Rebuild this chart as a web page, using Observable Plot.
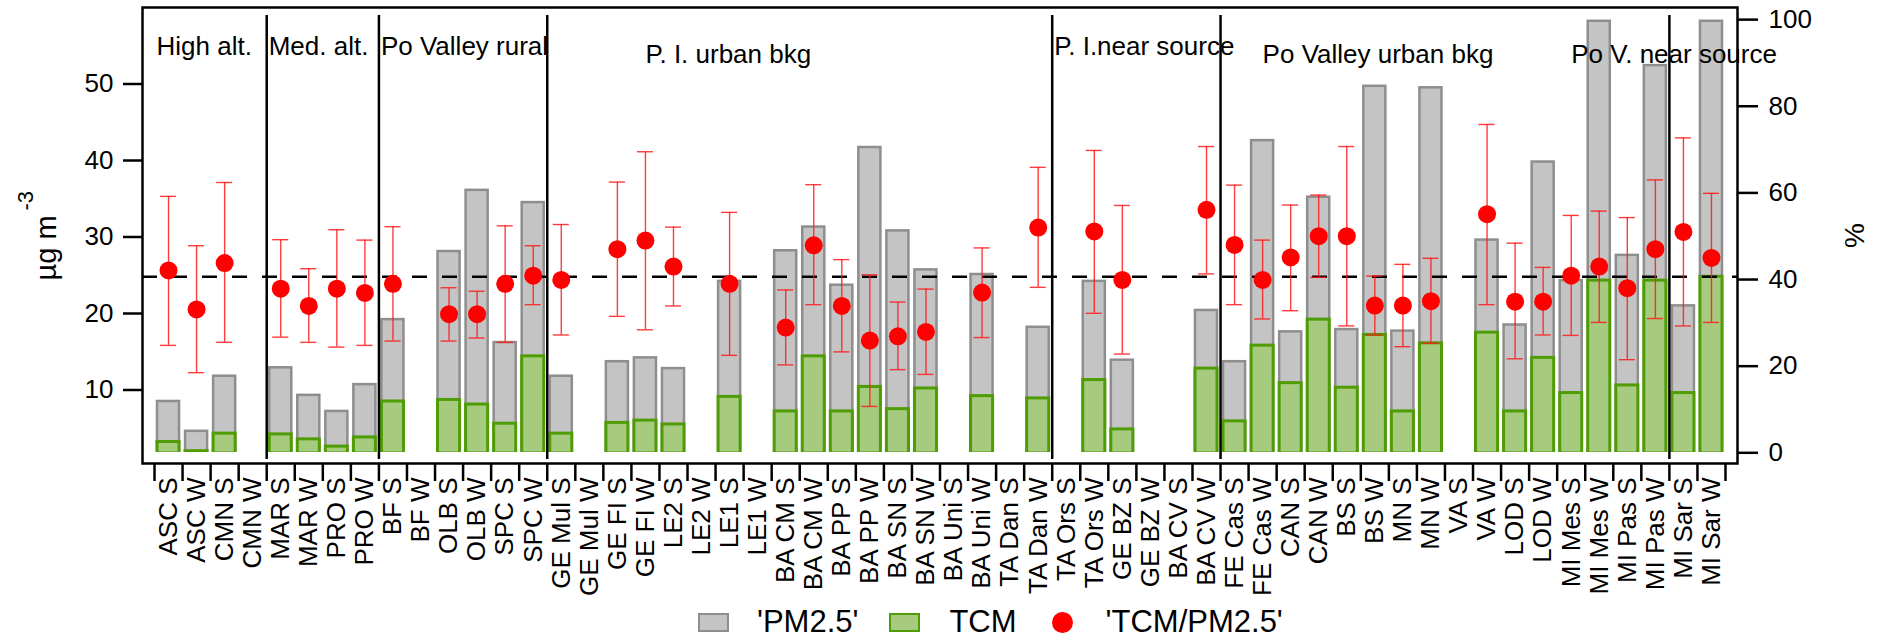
<!DOCTYPE html>
<html>
<head>
<meta charset="utf-8">
<script src="https://cdn.jsdelivr.net/npm/d3@7"></script>
<script src="https://cdn.jsdelivr.net/npm/@observablehq/plot@0.6"></script>
<style>
html, body { margin: 0; padding: 0; background: #fff; }
body { width: 1883px; height: 641px; overflow: hidden; font-family: "Liberation Sans", Arial, sans-serif; }
#legend { height: 38px; display: flex; align-items: center; padding-left: 698px; font-size: 31px; color: #000; }
#legend .box { width: 27px; height: 15px; border: 2px solid; box-sizing: content-box; }
#legend .dot { width: 21px; height: 21px; border-radius: 50%; background: #ff0000; }
</style>
</head>
<body>
<div id="chart"></div>
<div id="legend"></div>
<script>
// ---------------- data ----------------
const sites = ["ASC S","ASC W","CMN S","CMN W","MAR S","MAR W","PRO S","PRO W","BF S","BF W",
  "OLB S","OLB W","SPC S","SPC W","GE Mul S","GE Mul W","GE FI S","GE FI W","LE2 S","LE2 W",
  "LE1 S","LE1 W","BA CM S","BA CM W","BA PP S","BA PP W","BA SN S","BA SN W","BA Uni S","BA Uni W",
  "TA Dan S","TA Dan W","TA Ors S","TA Ors W","GE BZ S","GE BZ W","BA CV S","BA CV W","FE Cas S","FE Cas W",
  "CAN S","CAN W","BS S","BS W","MN S","MN W","VA S","VA W","LOD S","LOD W",
  "MI Mes S","MI Mes W","MI Pas S","MI Pas W","MI Sar S","MI Sar W"];

// PM2.5 (µg m-3)
const pm25 = [8.5,4.6,11.8,null,12.9,9.3,7.2,10.7,19.2,null,
  28.1,36.1,16.2,34.5,11.8,null,13.7,14.2,12.8,null,
  24.2,null,28.2,31.3,23.7,41.7,30.8,25.7,null,25.1,
  null,18.2,null,24.2,13.9,null,null,20.4,13.7,42.6,
  17.6,35.2,17.9,49.7,17.7,49.5,null,29.6,18.5,39.8,
  24.3,58.2,27.6,52.4,21.0,58.2];

// TCM (µg m-3)
const tcm = [3.2,2.0,4.3,null,4.2,3.55,2.6,3.8,8.5,null,
  8.7,8.1,5.6,14.4,4.3,null,5.7,6.0,5.5,null,
  9.1,null,7.2,14.4,7.2,10.4,7.5,10.2,null,9.2,
  null,8.9,null,11.3,4.85,null,null,12.8,5.9,15.8,
  10.9,19.2,10.3,17.2,7.2,16.1,null,17.5,7.2,14.2,
  9.6,24.3,10.6,24.3,9.6,24.8];

// TCM/PM2.5 (%) with lower / upper error bounds
const ratio = [42.1,33.1,43.8,null,37.9,33.9,37.9,36.9,39.0,null,
  32.0,32.0,39.0,40.9,39.9,null,47.0,49.0,43.0,null,
  39.0,null,28.9,47.9,33.9,25.9,26.9,27.9,null,37.0,
  null,52.0,null,51.1,39.9,null,null,56.1,48.0,39.9,
  45.1,50.0,50.0,34.0,34.0,35.0,null,55.1,34.9,34.9,
  40.9,43.0,38.0,47.0,51.0,45.0];
const ratioLow = [24.8,18.5,25.5,null,26.7,25.5,24.4,24.8,25.8,null,
  25.8,26.5,25.5,34.2,27.2,null,31.5,28.4,33.9,null,
  22.5,null,20.3,34.2,23.3,10.7,19.2,18.1,null,26.6,
  null,38.2,null,32.2,22.8,null,null,41.3,34.2,30.9,
  32.8,40.5,29.3,27.2,24.5,25.3,null,34.2,21.7,27.2,
  27.1,30.1,21.5,31.0,29.3,30.1];
const ratioHigh = [59.2,47.8,62.4,null,49.2,42.5,51.5,49.1,52.2,null,
  38.1,37.3,52.4,47.8,52.7,null,62.5,69.5,52.1,null,
  55.5,null,37.6,61.9,44.6,41.1,34.8,37.8,null,47.3,
  null,65.9,null,69.8,57.1,null,null,70.7,61.8,49.1,
  57.2,59.5,70.7,40.8,43.5,44.9,null,75.8,48.4,42.8,
  54.8,55.8,54.3,63.0,72.7,59.9];

// site groups: name and first site of each group
const groupNames = ["High alt.","Med. alt.","Po Valley rural","P. I. urban bkg","P. I.near source","Po Valley urban bkg","Po V. near source"];
const groupFirst = ["ASC S","MAR S","BF S","GE Mul S","TA Ors S","FE Cas S","MI Sar S"];

const leftTicks = [10,20,30,40,50];
const rightTicks = [0,20,40,60,80,100];
const refLevel = 24.8;            // dashed reference line (µg m-3)

// ---------------- layout / scales ----------------
const W = 1883, H = 603;
const mL = 142, mR = 146, mT = 7, mB = 140, xInset = 12;
const yDomain = [1.7, 60];         // left axis (µg m-3)
const pctDomain = [-0.16, 102.8];  // right axis (%) over the same pixel range
const toLeft = p => yDomain[0] + (p - pctDomain[0]) * (yDomain[1] - yDomain[0]) / (pctDomain[1] - pctDomain[0]);
const bw = (W - mL - mR - 2 * xInset) / sites.length;

const rows = sites.map((s, i) => ({site: s, pm: pm25[i], tcm: tcm[i], r: ratio[i], lo: ratioLow[i], hi: ratioHigh[i]}))
  .filter(d => d.pm != null);
const groups = groupNames.map((n, i) => ({name: n, first: groupFirst[i]}));

// label anchoring: some labels start at the group's left edge, others at a site centre
const edgeLabels = [groups[0], groups[1], groups[2], groups[4]].map(g => ({name: g.name, site: g.first}));
const centerLabels = [
  {name: groups[3].name, site: "GE FI W"},
  {name: groups[5].name, site: "FE Cas W"},
  {name: groups[6].name, site: "MI Mes S"}
];

const red = "#ff1a1a";

const chart = Plot.plot({
  width: W, height: H,
  marginLeft: mL, marginRight: mR, marginTop: mT, marginBottom: mB,
  style: {fontFamily: "'Liberation Sans', Arial, sans-serif", background: "white", color: "black", overflow: "visible"},
  x: {type: "band", domain: sites, padding: 0, round: false, insetLeft: xInset, insetRight: xInset},
  y: {domain: yDomain, insetBottom: 10},
  marks: [
    Plot.barY(rows, {x: "site", y1: yDomain[0], y2: "pm", fill: "#c4c4c4", stroke: "#8e8e8e", strokeWidth: 2.5, insetLeft: 3, insetRight: 3}),
    Plot.barY(rows, {x: "site", y1: yDomain[0], y2: "tcm", fill: "#a6cb7e", stroke: "#4f9c06", strokeWidth: 3, insetLeft: 3, insetRight: 3}),
    Plot.ruleY([yDomain[0]], {stroke: "white", strokeWidth: 3}),
    Plot.ruleY([refLevel], {stroke: "black", strokeWidth: 2.5, strokeDasharray: "15,15"}),
    Plot.ruleX(groups.slice(1), {x: "first", dx: -bw / 2, stroke: "black", strokeWidth: 2.5, insetTop: 8, insetBottom: 4}),
    Plot.ruleX(rows, {x: "site", y1: d => toLeft(d.lo), y2: d => toLeft(d.hi), stroke: red, strokeWidth: 1.4, strokeOpacity: 0.85}),
    Plot.tickY(rows, {x: "site", y: d => toLeft(d.lo), stroke: red, strokeWidth: 1.4, strokeOpacity: 0.85, insetLeft: 6, insetRight: 6}),
    Plot.tickY(rows, {x: "site", y: d => toLeft(d.hi), stroke: red, strokeWidth: 1.4, strokeOpacity: 0.85, insetLeft: 6, insetRight: 6}),
    Plot.dot(rows, {x: "site", y: d => toLeft(d.r), r: 9, fill: "#ff0000", stroke: null}),
    Plot.frame({stroke: "black", strokeWidth: 2.5}),
    Plot.text(edgeLabels, {x: "site", text: "name", frameAnchor: "top", dx: -bw / 2 + 2, dy: 47, textAnchor: "start", lineAnchor: "bottom", fontSize: 26, fill: "black"}),
    Plot.text(centerLabels, {x: "site", text: "name", frameAnchor: "top", dy: 55, textAnchor: "start", lineAnchor: "bottom", fontSize: 26, fill: "black"}),
    Plot.axisY(leftTicks, {anchor: "left", tickSize: 19, tickPadding: 10, fontSize: 26, strokeWidth: 2.5, label: null}),
    Plot.axisY(rightTicks.map(toLeft), {anchor: "right", tickSize: 20, tickPadding: 11, fontSize: 26, strokeWidth: 2.5, label: null,
      tickFormat: (d, i) => String(rightTicks[i])}),
    Plot.axisX({anchor: "bottom", tickSize: 0, tickPadding: 14, tickRotate: -90, fontSize: 26, label: null}),
    Plot.axisX({anchor: "bottom", tickSize: 18, tickFormat: () => "", dx: -bw / 2, strokeWidth: 2.5, label: null}),
    Plot.axisX([sites[sites.length - 1]], {anchor: "bottom", tickSize: 18, tickFormat: () => "", dx: bw / 2, strokeWidth: 2.5, label: null}),
    Plot.text(["µg m"], {frameAnchor: "left", dx: -87, dy: 45, rotate: -90, textAnchor: "start", lineAnchor: "bottom", fontSize: 29, fill: "black"}),
    Plot.text(["-3"], {frameAnchor: "left", dx: -110, dy: -25, rotate: -90, textAnchor: "start", lineAnchor: "bottom", fontSize: 22, fill: "black"}),
    Plot.text(["%"], {frameAnchor: "right", dx: 118, rotate: -90, textAnchor: "middle", lineAnchor: "middle", fontSize: 28, fill: "black"})
  ]
});
document.getElementById("chart").appendChild(chart);

// ---------------- legend ----------------
const legend = document.getElementById("legend");
legend.innerHTML = `
  <div class="box" style="background:#c4c4c4;border-color:#8e8e8e"></div>
  <span style="margin-left:28px">'PM2.5'</span>
  <div class="box" style="margin-left:31px;background:#a6cb7e;border-color:#4f9c06"></div>
  <span style="margin-left:29px">TCM</span>
  <div class="dot" style="margin-left:35px"></div>
  <span style="margin-left:33px">'TCM/PM2.5'</span>`;
</script>
</body>
</html>
